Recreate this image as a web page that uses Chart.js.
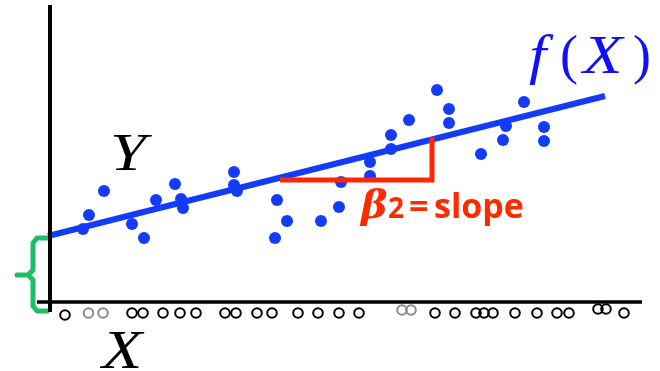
<!DOCTYPE html>
<html>
<head>
<meta charset="utf-8">
<script src="https://cdn.jsdelivr.net/npm/chart.js@4.4.1/dist/chart.umd.min.js"></script>
<style>
  html, body { margin: 0; padding: 0; background: #fff; }
  #wrap { width: 660px; height: 371px; }
</style>
</head>
<body>
<div id="wrap"><canvas id="fit-chart"></canvas></div>
<script>
// observed points (X, Y)
var obsX = [3.3, 3.9, 5.4, 8.2, 9.4, 10.6, 12.5, 13.1, 13.3, 18.4, 18.4, 18.7, 22.7, 23.7, 22.5, 27.1,
            28.9, 29.1, 32.0, 32.0, 34.1, 34.1, 35.9, 38.7, 39.9, 39.9, 43.1, 45.3, 45.6, 47.4, 49.4, 49.4];
var obsY = [7.3, 8.7, 11.1, 7.8, 6.4, 10.2, 11.8, 10.3, 9.4, 13.0, 11.7, 11.1, 10.2, 8.1, 6.4, 8.1,
            9.5, 12.0, 14.0, 12.6, 16.7, 15.3, 18.2, 21.2, 19.3, 17.9, 14.8, 16.2, 17.6, 20.0, 17.5, 16.1];

// X values drawn as open circles under the axis
var rugX = [1.5, 3.85, 5.3, 8.2, 9.3, 11.3, 13.0, 14.6, 17.5, 18.6, 20.7, 22.2, 24.8, 26.8, 28.9,
            30.9, 35.2, 36.1, 38.5, 40.5, 42.6, 43.4, 44.3, 46.5, 48.7, 50.7, 51.9, 54.8, 55.6, 57.4];
var rugY = [-1.3, -1.1, -1.1, -1.1, -1.1, -1.1, -1.1, -1.1, -1.1, -1.1, -1.1, -1.1, -1.1, -1.1, -1.1,
            -1.1, -0.8, -0.8, -1.1, -1.1, -1.1, -1.1, -1.1, -1.1, -1.1, -1.1, -1.1, -0.7, -0.7, -1.1];
var rugGrey = [1, 2, 16, 17];

// fitted line f(X)
var fitX = [-0.2, 55.5];
var fitY = [6.6, 20.6];

// slope triangle
var slopeX = [23.0, 38.2, 38.2];
var slopeY = [12.2, 12.2, 16.5];

// intercept brace
var braceX = [-0.3, -1.3, -1.7, -1.7, -2.2, -3.3, -2.2, -1.7, -1.7, -1.3, -0.3];
var braceY = [6.4, 6.4, 5.9, 3.2, 2.7, 2.7, 2.7, 2.2, -0.4, -0.9, -0.9];

// axes
var axisX = [[0, 0], [-1.3, 59.2]];
var axisY = [[29.7, -1.0], [0, 0]];

function pts(xs, ys) {
    return xs.map(function (x, i) { return { x: x, y: ys[i] }; });
}

var BLUE = 'rgb(18, 60, 250)';

// wider italic letters, closer to the math font of the original
function wide_text(ctx, txt, x, y, sx) {
    ctx.save();
    ctx.translate(x, y);
    ctx.scale(sx, 1);
    ctx.fillText(txt, 0, 0);
    ctx.restore();
}

var labels_plugin = {
    id: 'labels_plugin',
    afterDatasetsDraw: function (chart) {
        var ctx = chart.ctx;
        var xs = chart.scales.x, ys = chart.scales.y;
        ctx.save();
        ctx.textBaseline = 'alphabetic';
        ctx.textAlign = 'left';

        // Y
        ctx.fillStyle = '#000';
        ctx.font = 'italic 52px "Liberation Serif"';
        wide_text(ctx, 'Y', xs.getPixelForValue(6.0), ys.getPixelForValue(13.2), 1.25);
        // X
        ctx.font = 'italic 54px "Liberation Serif"';
        wide_text(ctx, 'X', xs.getPixelForValue(5.2), ys.getPixelForValue(-6.6), 1.22);

        // f(X)
        ctx.fillStyle = '#1010ff';
        var x = xs.getPixelForValue(47.9), y = ys.getPixelForValue(22.9);
        ctx.font = 'italic 54px "Liberation Serif"';
        wide_text(ctx, 'f', x, y, 1.15);
        wide_text(ctx, 'X', x + 54, y, 1.2);
        ctx.font = '54px "Liberation Serif"';
        ctx.fillText('(', x + 31, y);
        ctx.fillText(')', x + 104, y);

        // beta_2 = slope
        ctx.fillStyle = '#ff2a00';
        x = xs.getPixelForValue(31.3); y = ys.getPixelForValue(8.4);
        ctx.font = 'italic bold 40px "DejaVu Serif"';
        ctx.fillText('\u03b2', x - 2, y);
        ctx.font = 'bold 28px "Open Sans"';
        ctx.fillText('2', x + 25, y);
        ctx.font = 'bold 34px "Open Sans"';
        ctx.fillText('=', x + 46, y);
        ctx.fillText('slope', x + 71, y);
        ctx.restore();
    }
};

var ctx = document.getElementById('fit-chart').getContext('2d');
var fit_chart = new Chart(ctx, {
    type: 'scatter',
    data: {
        datasets: [
            {
                data: pts(axisX[0], axisY[0]), showLine: true, borderColor: '#000', borderWidth: 4,
                pointRadius: 0, borderCapStyle: 'butt'
            },
            {
                data: pts(axisX[1], axisY[1]), showLine: true, borderColor: '#000', borderWidth: 3.5,
                pointRadius: 0, borderCapStyle: 'butt'
            },
            {
                data: pts(braceX, braceY), showLine: true, borderColor: 'rgb(30, 190, 105)', borderWidth: 5,
                pointRadius: 0, borderJoinStyle: 'round', borderCapStyle: 'round'
            },
            {
                data: pts(slopeX, slopeY), showLine: true, borderColor: 'rgb(255, 38, 0)', borderWidth: 5,
                pointRadius: 0, borderJoinStyle: 'miter', borderCapStyle: 'butt'
            },
            {
                data: pts(obsX, obsY), backgroundColor: BLUE, borderColor: BLUE,
                pointRadius: 6, borderWidth: 0
            },
            {
                data: pts(fitX, fitY), showLine: true, borderColor: BLUE, borderWidth: 6,
                pointRadius: 0, borderCapStyle: 'butt'
            },
            {
                data: pts(rugX, rugY), pointRadius: 4.8, borderWidth: 2, backgroundColor: 'rgba(0,0,0,0)',
                pointBorderColor: rugX.map(function (v, i) { return rugGrey.indexOf(i) >= 0 ? '#8a8a8a' : '#000'; })
            }
        ]
    },
    options: {
        responsive: true,
        maintainAspectRatio: false,
        animation: false,
        layout: { padding: 0, autoPadding: false },
        plugins: { legend: { display: false }, tooltip: { enabled: false } },
        scales: {
            x: { type: 'linear', min: -5, max: 61, display: false },
            y: { type: 'linear', min: -6.9, max: 30.2, display: false }
        }
    },
    plugins: [labels_plugin]
});
</script>
</body>
</html>
